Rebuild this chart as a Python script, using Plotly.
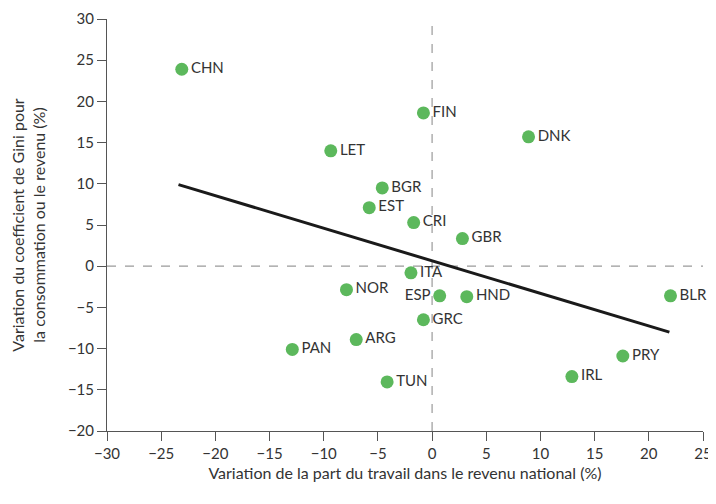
import plotly.graph_objects as go

countries = ["CHN", "FIN", "DNK", "LET", "BGR", "EST", "CRI", "GBR", "ITA", "NOR",
             "ESP", "HND", "BLR", "GRC", "ARG", "PAN", "PRY", "IRL", "TUN"]
labor_change = [-23.1, -0.8, 8.9, -9.35, -4.6, -5.8, -1.7, 2.8, -1.95, -7.9,
                0.7, 3.2, 22.0, -0.8, -7.0, -12.9, 17.6, 12.9, -4.15]
gini_change = [23.9, 18.6, 15.7, 14.0, 9.5, 7.1, 5.3, 3.35, -0.8, -2.85,
               -3.6, -3.7, -3.6, -6.5, -8.9, -10.1, -10.9, -13.4, -14.05]
label_pos = ["middle right"] * len(countries)
label_pos[countries.index("ESP")] = "middle left"

fit_x = [-23.4, 21.9]
fit_y = [9.9, -8.0]

x_ticks = [-30, -25, -20, -15, -10, -5, 0, 5, 10, 15, 20, 25]
y_ticks = [-20, -15, -10, -5, 0, 5, 10, 15, 20, 25, 30]

font_family = "Lato, 'Noto Sans', sans-serif"
text_color = "#333333"

fig = go.Figure()

fig.add_trace(go.Scatter(
    x=fit_x, y=fit_y, mode="lines",
    line=dict(color="#1a1a1a", width=3),
    hoverinfo="skip", showlegend=False,
))

fig.add_trace(go.Scatter(
    x=labor_change, y=gini_change, mode="markers+text",
    text=countries, textposition=label_pos,
    textfont=dict(family=font_family, size=15, color=text_color),
    marker=dict(color="#5cb85c", size=13),
    showlegend=False, cliponaxis=False,
))

dash_style = dict(color="#9a9a9a", width=1.2, dash="dash")
fig.add_shape(type="line", xref="x", yref="paper", x0=0, x1=0, y0=0, y1=1,
              line=dash_style, layer="below")
fig.add_shape(type="line", xref="paper", yref="y", x0=0, x1=1, y0=0, y1=0,
              line=dash_style, layer="below")

axis_common = dict(
    showgrid=False, zeroline=False, showline=True, linecolor="#555555", linewidth=1,
    ticks="outside", ticklen=9, tickcolor="#555555", automargin=False,
    ticklabeloverflow="allow",
    tickfont=dict(family=font_family, size=15, color=text_color),
)

fig.update_xaxes(range=[-30, 25], tickvals=x_ticks,
                 title=dict(text="Variation de la part du travail dans le revenu national (%)",
                            font=dict(family=font_family, size=16, color=text_color),
                            standoff=6),
                 **axis_common)
fig.update_yaxes(range=[-20, 30], tickvals=y_ticks,
                 title=dict(text="Variation du coefficient de Gini pour<br>la consommation ou le revenu (%)",
                            font=dict(family=font_family, size=16, color=text_color),
                            standoff=18),
                 **axis_common)

fig.update_layout(
    width=708, height=480,
    margin=dict(l=99, r=12.7, t=11.3, b=57),
    plot_bgcolor="white", paper_bgcolor="white",
    font=dict(family=font_family, color=text_color),
)

fig.write_html("out.html")
